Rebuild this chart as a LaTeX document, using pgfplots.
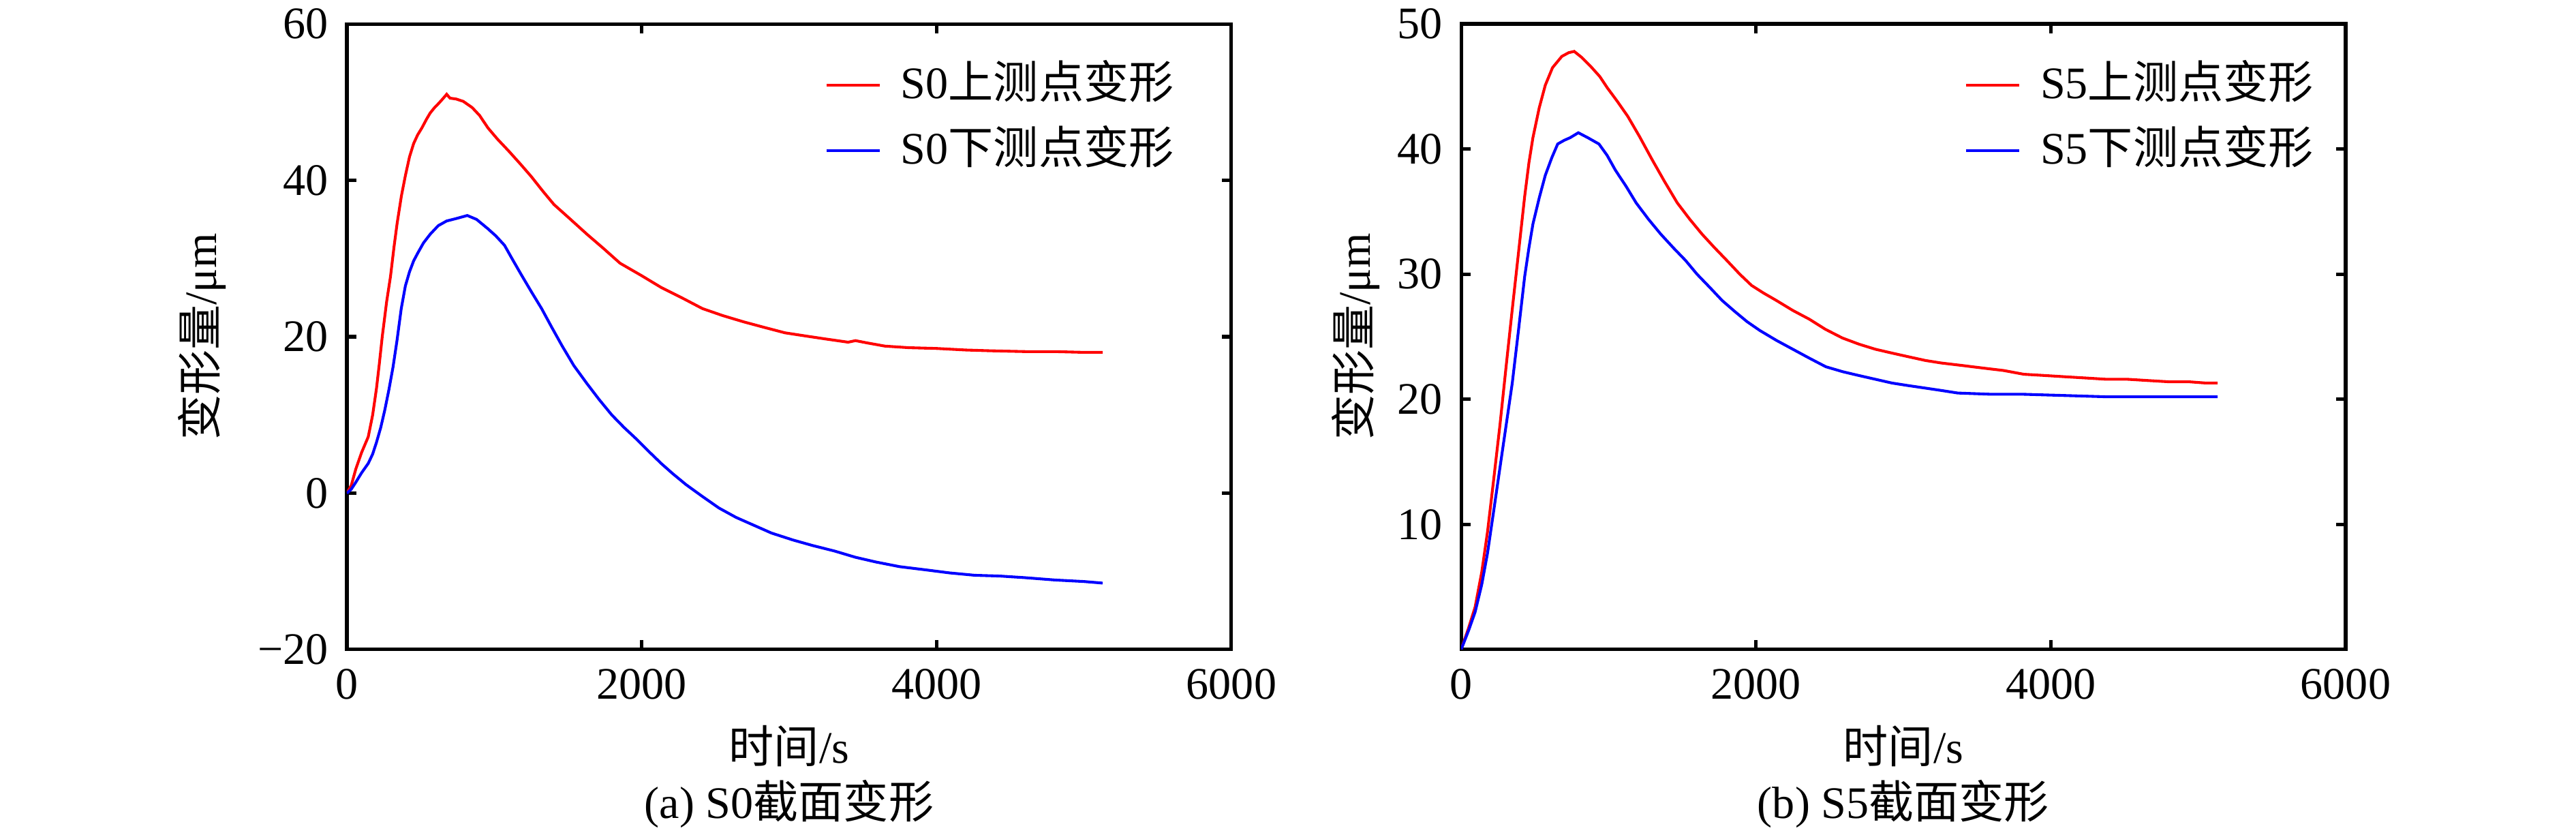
\documentclass[border=0pt]{standalone}
\usepackage{fontspec}
\setmainfont{Liberation Serif}
\newfontfamily\cjk{Noto Sans CJK SC}
\usepackage{pgfplots}
\pgfplotsset{compat=1.18}
\begin{document}
\begin{tikzpicture}[font=\fontsize{10.5}{12.6}\selectfont]
\useasboundingbox (0,0) rectangle (600pt,194.44pt);
\pgfplotsset{
  myaxis/.style={
    scale only axis, width=206.03pt, height=145.71pt,
    anchor=south west,
    xmin=0, xmax=6000, xtick={0,2000,4000,6000},
    xticklabels={0,2000,4000,6000},
    tick align=inside, major tick length=2.2pt,
    axis line style={line width=0.8pt},
    every tick/.style={black, line width=0.8pt},
    xticklabel style={yshift=-1pt},
    yticklabel style={xshift=-0.8pt},
    legend cell align=left,
    legend image code/.code={\draw[##1, line width=0.65pt] (0pt,0pt) -- (12.4pt,0pt);},
    legend style={draw=none, fill=none, inner sep=0pt, at={(1,1)}, anchor=north east,
      nodes={inner sep=0pt, text height=8pt, text depth=2pt},
      row sep=5.24pt, column sep=4.6pt},
  }
}
\begin{axis}[myaxis, name=A, at={(80.79pt,43.17pt)},
  ymin=-20, ymax=60, ytick={-20,0,20,40,60}, yticklabels={−20,0,20,40,60},
  legend style={xshift=-13.2pt, yshift=-9.1pt}]
\addplot[red, line width=0.65pt] coordinates {
(0,0) (30,1) (61,3.1) (100,5.2) (145,7.2) (175,10) (201,13.4) (220,16.5) (240,20) (270,24.5) (296,27.7) (320,31.5) (341,34.5) (370,38) (397,40.6) (425,43) (453,44.7) (480,45.8) (509,46.7) (540,47.8) (565,48.6) (595,49.3) (621,49.8) (650,50.4) (677,51) (700,50.5) (740,50.4) (789,50.1) (850,49.3) (900,48.3) (957,46.7) (1020,45.3) (1100,43.7) (1181,42) (1250,40.5) (1330,38.6) (1405,36.9) (1500,35.3) (1629,33.1) (1740,31.3) (1853,29.4) (2000,27.8) (2132,26.3) (2270,25) (2412,23.6) (2550,22.7) (2692,21.9) (2830,21.2) (2972,20.5) (3110,20.1) (3252,19.7) (3400,19.3) (3450,19.5) (3532,19.2) (3650,18.8) (3811,18.6) (4000,18.5) (4200,18.3) (4371,18.2) (4600,18.1) (4800,18.1) (5000,18) (5127,18)
};
\addlegendentry{S0{\cjk 上测点变形}}
\addplot[blue, line width=0.65pt] coordinates {
(0,0) (30,0.5) (61,1.4) (100,2.6) (145,3.8) (175,5) (201,6.5) (230,8.4) (257,10.6) (285,13.2) (313,16.1) (340,19.5) (369,23.6) (397,26.5) (425,28.3) (453,29.7) (481,30.7) (520,32) (565,33.1) (620,34.2) (677,34.8) (740,35.1) (817,35.5) (880,35) (957,33.8) (1010,32.9) (1069,31.7) (1120,30) (1181,28) (1250,25.8) (1321,23.6) (1390,21.2) (1461,18.8) (1540,16.3) (1629,14) (1710,12) (1797,10) (1880,8.4) (1965,6.9) (2050,5.3) (2132,3.8) (2210,2.5) (2300,1.1) (2410,-0.4) (2524,-1.9) (2640,-3.1) (2748,-4) (2880,-5.1) (3028,-6) (3160,-6.7) (3308,-7.4) (3450,-8.2) (3588,-8.8) (3750,-9.4) (3923,-9.8) (4090,-10.2) (4259,-10.5) (4430,-10.6) (4595,-10.8) (4800,-11.1) (5000,-11.3) (5127,-11.5)
};
\addlegendentry{S0{\cjk 下测点变形}}
\end{axis}
\begin{axis}[myaxis, name=B, at={(340.32pt,43.17pt)},
  ymin=0, ymax=50, ytick={10,20,30,40,50}, yticklabels={10,20,30,40,50},
  legend style={xshift=-7.3pt, yshift=-9.1pt}]
\addplot[red, line width=0.65pt] coordinates {
(0,0) (50,1.7) (95,3.4) (140,6.2) (179,9.4) (220,13.5) (263,17.9) (305,22.6) (347,27.2) (390,31.8) (431,36.2) (460,38.9) (487,40.9) (530,43.3) (571,45.1) (620,46.5) (683,47.4) (730,47.7) (767,47.8) (820,47.3) (879,46.6) (940,45.8) (991,44.9) (1060,43.8) (1131,42.6) (1210,41) (1298,39.1) (1380,37.4) (1466,35.7) (1550,34.4) (1634,33.2) (1720,32.1) (1802,31.1) (1890,30) (1970,29.1) (2050,28.5) (2138,27.9) (2250,27.1) (2362,26.4) (2470,25.6) (2586,24.9) (2700,24.4) (2810,24) (2920,23.7) (3034,23.4) (3150,23.1) (3257,22.9) (3400,22.7) (3537,22.5) (3680,22.3) (3817,22) (3960,21.9) (4097,21.8) (4240,21.7) (4377,21.6) (4520,21.6) (4657,21.5) (4800,21.4) (4937,21.4) (5050,21.3) (5132,21.3)
};
\addlegendentry{S5{\cjk 上测点变形}}
\addplot[blue, line width=0.65pt] coordinates {
(0,0) (50,1.5) (95,3) (140,5.2) (179,7.7) (220,11) (263,14.5) (305,17.9) (347,21.3) (390,25.6) (431,29.8) (460,32.1) (487,34) (530,36.1) (571,37.9) (615,39.3) (655,40.4) (700,40.7) (739,40.9) (795,41.3) (860,40.9) (935,40.4) (990,39.5) (1047,38.3) (1120,37) (1187,35.7) (1270,34.4) (1354,33.2) (1440,32.1) (1522,31.1) (1600,30) (1690,28.9) (1770,27.9) (1858,27) (1940,26.2) (2026,25.5) (2140,24.7) (2250,24) (2360,23.3) (2474,22.6) (2590,22.2) (2698,21.9) (2810,21.6) (2922,21.3) (3030,21.1) (3146,20.9) (3260,20.7) (3369,20.5) (3600,20.4) (3817,20.4) (4100,20.3) (4377,20.2) (4700,20.2) (4937,20.2) (5132,20.2)
};
\addlegendentry{S5{\cjk 下测点变形}}
\end{axis}
\node[rotate=90] at ([xshift=-33.7pt]A.west) {{\cjk 变形量}/μm};
\node[rotate=90] at ([xshift=-24.6pt]B.west) {{\cjk 变形量}/μm};
\node at ([yshift=-22.4pt]A.south) {{\cjk 时间}/s};
\node at ([yshift=-22.4pt]B.south) {{\cjk 时间}/s};
\node at ([yshift=-36pt]A.south) {(a) S0{\cjk 截面变形}};
\node at ([yshift=-36pt]B.south) {(b) S5{\cjk 截面变形}};
\end{tikzpicture}
\end{document}
